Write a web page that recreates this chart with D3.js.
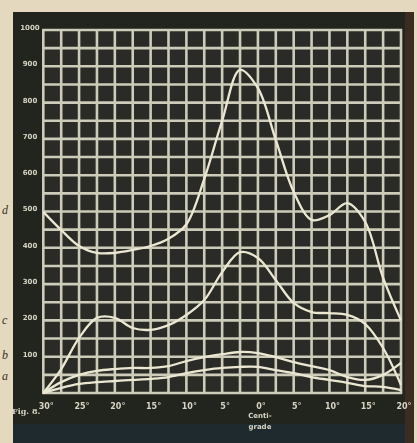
<!DOCTYPE html>
<html>
<head>
<meta charset="utf-8">
<script src="https://cdn.jsdelivr.net/npm/d3@7"></script>
<style>
  body { margin: 0; background: #e4d9bf; }
  svg { display: block; }
</style>
</head>
<body>
<div id="chart"></div>
<script>
var width = 417;
var height = 443;

// temperature (deg C) at each vertical grid line, left to right
var temps = [-30, -27.5, -25, -22.5, -20, -17.5, -15, -12.5, -10, -7.5, -5, -2.5, 0, 2.5, 5, 7.5, 10, 12.5, 15, 17.5, 20];

// the four curves at each grid line
var curveD = [499, 449, 405, 386, 386, 394, 405, 425, 465, 590, 750, 890, 840, 697, 554, 477, 490, 523, 471, 317, 200];
var curveC = [0, 66, 152, 207, 207, 179, 174, 187, 215, 256, 333, 388, 372, 311, 248, 223, 220, 215, 190, 124, 22];
var curveB = [0, 30, 50, 61, 66, 69, 69, 74, 88, 99, 107, 113, 110, 99, 85, 74, 63, 44, 36, 50, 83];
var curveA = [0, 14, 25, 30, 33, 36, 39, 44, 55, 63, 69, 72, 72, 63, 55, 44, 36, 28, 19, 17, 8];

var xTicks = [-30, -25, -20, -15, -10, -5, 0, 5, 10, 15, 20];
var yTicks = [100, 200, 300, 400, 500, 600, 700, 800, 900, 1000];
var curveLetters = ["d", "c", "b", "a"];

var x = d3.scaleLinear().domain([-30, 20]).range([43.3, 401]);
var y = d3.scaleLinear().domain([0, 1000]).range([393, 30]);

var svg = d3.select("#chart").append("svg")
  .attr("width", width)
  .attr("height", height);

var defs = svg.append("defs");
defs.append("filter").attr("id", "soft")
  .append("feGaussianBlur").attr("stdDeviation", 0.55);

// the dark board in the photograph
svg.append("rect")
  .attr("x", 13).attr("y", 12)
  .attr("width", 401).attr("height", 431)
  .attr("fill", "#22241e");
svg.append("rect")
  .attr("x", 13).attr("y", 424)
  .attr("width", 401).attr("height", 19)
  .attr("fill", "#1f2a2e");
svg.append("rect")
  .attr("x", 405).attr("y", 12)
  .attr("width", 9).attr("height", 431)
  .attr("fill", "#3b2c22");

var g = svg.append("g").attr("filter", "url(#soft)");

// cells
g.append("rect")
  .attr("x", x(-30)).attr("y", y(1000))
  .attr("width", x(20) - x(-30)).attr("height", y(0) - y(1000))
  .attr("fill", "#2a2c25");

var gridColor = "#cdcbba";

g.selectAll(".vline")
  .data(temps)
  .enter().append("line")
  .attr("class", "vline")
  .attr("x1", function(d) { return x(d); })
  .attr("x2", function(d) { return x(d); })
  .attr("y1", y(1000) - 1)
  .attr("y2", y(0) + 1)
  .attr("stroke", gridColor)
  .attr("stroke-width", 2.6);

g.selectAll(".hline")
  .data(d3.range(0, 1001, 50))
  .enter().append("line")
  .attr("class", "hline")
  .attr("x1", x(-30) - 1)
  .attr("x2", x(20) + 1)
  .attr("y1", function(d) { return y(d); })
  .attr("y2", function(d) { return y(d); })
  .attr("stroke", gridColor)
  .attr("stroke-width", 2.6);

var line = d3.line()
  .x(function(d, i) { return x(temps[i]); })
  .y(function(d) { return y(d); })
  .curve(d3.curveCatmullRom.alpha(0.5));

g.selectAll(".curve")
  .data([curveD, curveC, curveB, curveA])
  .enter().append("path")
  .attr("class", "curve")
  .attr("d", line)
  .attr("fill", "none")
  .attr("stroke", "#ebe7d2")
  .attr("stroke-width", 2.3);

// axis labels
g.selectAll(".ylab")
  .data(yTicks)
  .enter().append("text")
  .attr("class", "ylab")
  .attr("x", 30)
  .attr("y", function(d) { return y(d) - 2; })
  .attr("text-anchor", "middle")
  .attr("dominant-baseline", "middle")
  .attr("font-family", "DejaVu Sans")
  .attr("font-weight", "bold")
  .attr("font-size", 7)
  .attr("fill", "#d6d4c4")
  .text(function(d) { return d; });

g.selectAll(".xlab")
  .data(xTicks)
  .enter().append("text")
  .attr("class", "xlab")
  .attr("x", function(d) { return x(d) + 3; })
  .attr("y", 406)
  .attr("text-anchor", "middle")
  .attr("dominant-baseline", "middle")
  .attr("font-family", "DejaVu Sans")
  .attr("font-weight", "bold")
  .attr("font-size", 8)
  .attr("fill", "#d6d4c4")
  .text(function(d) { return Math.abs(d) + "°"; });

g.selectAll(".unit")
  .data(["Centi-", "grade"])
  .enter().append("text")
  .attr("class", "unit")
  .attr("x", x(0) + 2)
  .attr("y", function(d, i) { return 416 + i * 11; })
  .attr("text-anchor", "middle")
  .attr("dominant-baseline", "middle")
  .attr("font-family", "DejaVu Sans")
  .attr("font-weight", "bold")
  .attr("font-size", 7)
  .attr("fill", "#d6d4c4")
  .text(function(d) { return d; });

g.append("text")
  .attr("x", 12)
  .attr("y", 414)
  .attr("font-family", "DejaVu Serif")
  .attr("font-weight", "bold")
  .attr("font-size", 8)
  .attr("fill", "#d6d4c4")
  .text("Fig. 8.");

// letters printed on the page beside the board
svg.selectAll(".letter")
  .data(curveLetters)
  .enter().append("text")
  .attr("class", "letter")
  .attr("x", 2)
  .attr("y", function(d, i) { return [214, 324, 359, 380][i]; })
  .attr("font-family", "Liberation Serif")
  .attr("font-style", "italic")
  .attr("font-size", 12)
  .attr("fill", "#3a3024")
  .text(function(d) { return d; });
</script>
</body>
</html>
